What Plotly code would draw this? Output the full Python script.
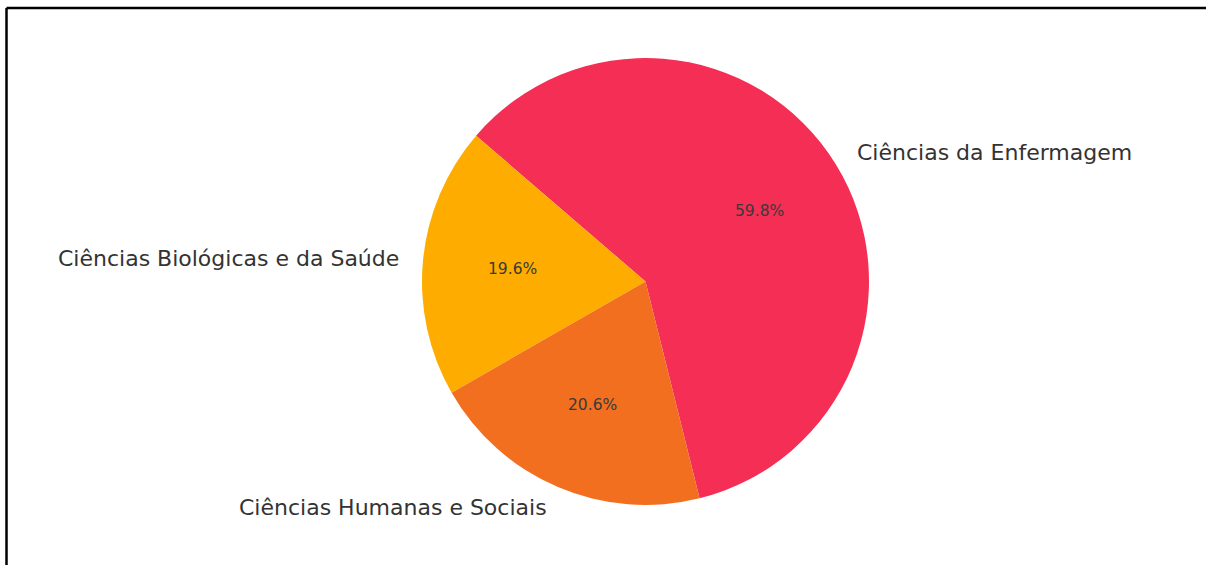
import math
import plotly.graph_objects as go

categories = ["Ciências da Enfermagem", "Ciências Biológicas e da Saúde", "Ciências Humanas e Sociais"]
values = [59.8, 19.6, 20.6]
colors = ["#F42E55", "#FFAC00", "#F26F20"]

W, H = 1206, 565
cx, cy, R = 645.5, 281.5, 223.5    # pixel centre / radius of the pie
start_deg = 284.0                  # math angle where the first slice begins (counter-clockwise)

total = sum(values)
# plotly (counterclockwise) puts the end of the first slice at the rotation angle
first_end = start_deg + 360 * values[0] / total
rot = (90 - first_end) % 360
if rot > 180:
    rot -= 360

fig = go.Figure(go.Pie(
    labels=categories,
    values=values,
    sort=False,
    direction="counterclockwise",
    rotation=rot,
    marker=dict(colors=colors, line=dict(width=0)),
    textinfo="none",
    hoverinfo="label+percent",
    showlegend=False,
    domain=dict(x=[(cx - R) / W, (cx + R) / W], y=[(H - cy - R) / H, (H - cy + R) / H]),
))

ang = start_deg
annotations = []
for lab, v in zip(categories, values):
    span = 360 * v / total
    mid = math.radians(ang + span / 2)
    ang += span
    lx = cx + 1.1 * R * math.cos(mid)
    ly = cy - 1.1 * R * math.sin(mid)
    annotations.append(dict(
        x=lx / W, y=1 - ly / H, xref="paper", yref="paper",
        text=lab, showarrow=False,
        xanchor="left" if math.cos(mid) > 0 else "right", yanchor="middle",
        font=dict(family="DejaVu Sans", size=22, color="#333333"),
    ))
    px = cx + 0.6 * R * math.cos(mid)
    py = cy - 0.6 * R * math.sin(mid)
    annotations.append(dict(
        x=px / W, y=1 - py / H, xref="paper", yref="paper",
        text=f"{100 * v / total:.1f}%", showarrow=False,
        xanchor="center", yanchor="middle",
        font=dict(family="DejaVu Sans", size=15.5, color="#3a3a3a"),
    ))

shapes = [
    dict(type="line", xref="paper", yref="paper", x0=6.5 / W, x1=1.0, y0=1 - 8 / H, y1=1 - 8 / H,
         line=dict(color="black", width=2.5)),
    dict(type="line", xref="paper", yref="paper", x0=6.5 / W, x1=6.5 / W, y0=0, y1=1 - 8 / H,
         line=dict(color="black", width=2.5)),
]

fig.update_layout(
    width=W, height=H, autosize=False,
    margin=dict(l=0, r=0, t=0, b=0),
    paper_bgcolor="white", plot_bgcolor="white",
    annotations=annotations, shapes=shapes,
)

fig.write_html("out.html", config={"displayModeBar": False},
               post_script="document.body.style.margin='0';document.body.style.overflow='hidden';")
